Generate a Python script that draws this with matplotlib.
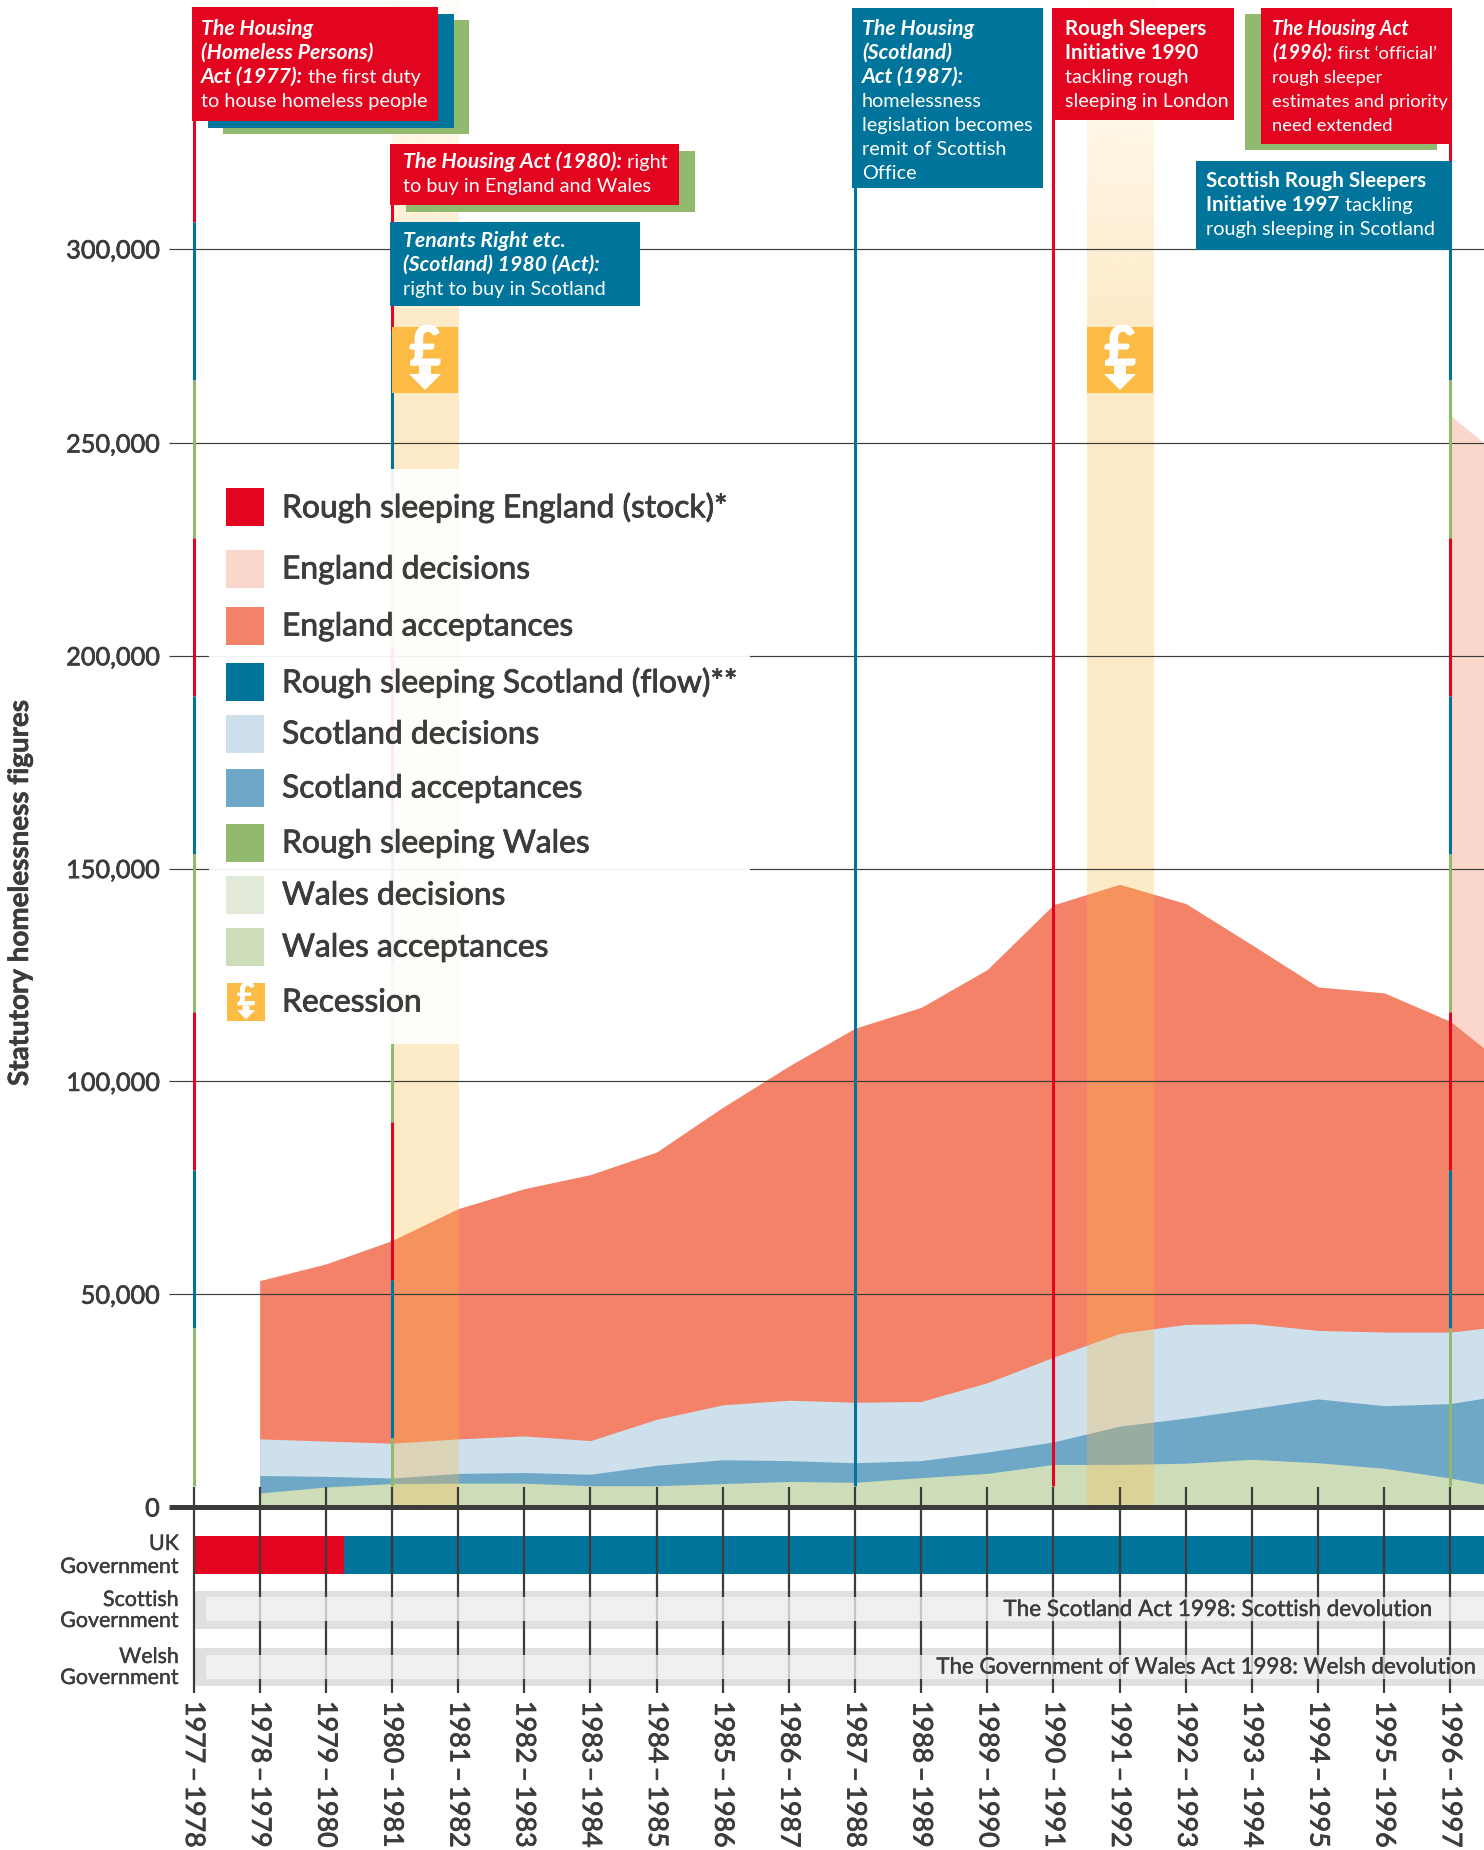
import numpy as np
import matplotlib
matplotlib.use('Agg')
import matplotlib.pyplot as plt
import matplotlib.patheffects as pe
from matplotlib.patches import Rectangle, Polygon
from matplotlib.transforms import blended_transform_factory

plt.rcParams['font.family'] = ['Lato', 'DejaVu Sans']

W, H = 1484, 1850
ZERO_PX = 1507
DARK = '#3c3c3b'
RED = '#e3051f'
BLUE = '#00749a'
GREEN = '#91ba6f'
ORANGE = '#fbbb44'

year_labels = ['%d\u2009–\u2009%d' % (y, y + 1) for y in range(1977, 1997)]

# all series start in 1978-79, last value runs off the right edge
area_years = list(range(1, 21))
england_acceptances = [53200, 57100, 62600, 70100, 74800, 78100, 83400, 93900, 103600, 112500,
                       117400, 126300, 141500, 146300, 141800, 132100, 122200, 120800, 114100, 101700]
scotland_decisions = [16000, 15500, 15000, 16000, 16700, 15600, 20600, 24000, 25100, 24600,
                      24800, 29200, 35200, 40800, 42900, 43100, 41500, 41100, 41100, 42900]
scotland_acceptances = [7400, 7200, 6800, 7900, 8100, 7700, 9800, 11100, 10900, 10400,
                        10900, 12900, 15300, 19000, 20900, 23100, 25400, 23800, 24300, 26800]
wales_acceptances = [3300, 4700, 5500, 5600, 5600, 5000, 5000, 5500, 6000, 5800,
                     6900, 7900, 10000, 10000, 10300, 11200, 10400, 9100, 6800, 4000]
england_decisions_years = [19, 20]
england_decisions = [256500, 243700]

y_tick_values = [0, 50000, 100000, 150000, 200000, 250000]
y_tick_labels = ['0', '50,000', '100,000', '150,000', '200,000', '250,000', '300,000']
# the 300,000 line in the original sits a bit low, off the scale of the others
y_tick_top = 295600

recession_start = [3, 13.5]
recession_end = [4, 14.5]

legend_labels = ['Rough sleeping England (stock)*', 'England decisions', 'England acceptances',
                 'Rough sleeping Scotland (flow)**', 'Scotland decisions', 'Scotland acceptances',
                 'Rough sleeping Wales', 'Wales decisions', 'Wales acceptances', 'Recession']
legend_colors = [RED, '#fbd6cb', '#f38269', BLUE, '#cee0ec', '#6fa8c6', GREEN, '#e1e9d8', '#cdddb9', ORANGE]

px_per_year = 66.15
val_per_px = 50000 / 212.8


def thick(width, color=DARK):
  # the original font is a bit heavier than Lato regular
  return [pe.withStroke(linewidth=width, foreground=color)]


fig = plt.figure(figsize=(W / 100, H / 100), dpi=100, facecolor='white')
xlim = (-193.5 / px_per_year, (W - 193.5) / px_per_year)

ax = fig.add_axes([0, 1 - ZERO_PX / H, 1, ZERO_PX / H], zorder=1)
ax.set_xlim(xlim)
ax.set_ylim(0, ZERO_PX * val_per_px)
for s in ax.spines.values():
  s.set_visible(False)
ax.patch.set_alpha(0)

gov = fig.add_axes([0, 0, 1, 1 - ZERO_PX / H], zorder=2, sharex=ax)
gov.set_ylim(H, ZERO_PX)
gov.axis('off')

ann = fig.add_axes([0, 0, 1, 1], zorder=5)
ann.set_xlim(0, W)
ann.set_ylim(H, 0)
ann.axis('off')

renderer = fig.canvas.get_renderer()

# areas, back to front
ax.fill_between(england_decisions_years, 0, england_decisions, color=legend_colors[1], lw=0, zorder=1)
ax.fill_between(area_years, 0, england_acceptances, color=legend_colors[2], lw=0, zorder=2)
ax.fill_between(area_years, 0, scotland_decisions, color=legend_colors[4], lw=0, zorder=3)
ax.fill_between(area_years, 0, scotland_acceptances, color=legend_colors[5], lw=0, zorder=4)
ax.fill_between(area_years, 0, wales_acceptances, color=legend_colors[8], lw=0, zorder=5)

# recession bands fade out towards the top
rows = np.linspace(ZERO_PX, 0, 300)
band = np.zeros((300, 1, 4))
band[:, 0, :3] = matplotlib.colors.to_rgb(ORANGE)
band[:, 0, 3] = np.interp(rows, [0, 120, 330, ZERO_PX], [0.03, 0.13, 0.3, 0.3])
for a, b in zip(recession_start, recession_end):
  ax.imshow(band, extent=[a, b, 0, ZERO_PX * val_per_px], aspect='auto', zorder=6, origin='lower', interpolation='bilinear')
ax.set_xlim(xlim)
ax.set_ylim(0, ZERO_PX * val_per_px)

# grid
grid_left = (169 - 193.5) / px_per_year
ax.hlines(y_tick_values[1:] + [y_tick_top], grid_left, xlim[1], color=DARK, lw=0.85, zorder=7)
ax.plot([grid_left, xlim[1]], [0, 0], color=DARK, lw=3.6, zorder=12, clip_on=False, solid_capstyle='butt')
ax.set_yticks(y_tick_values + [y_tick_top], y_tick_labels)
ax.set_xticks([])
ax.tick_params(axis='y', length=0, direction='in', pad=-115, labelsize=18.2, labelcolor=DARK)
for t in ax.get_yticklabels():
  t.set_ha('right')
  t.set_path_effects(thick(0.5))
ax.text(20 / W, (ZERO_PX - 893) / ZERO_PX, 'Statutory homelessness figures', transform=ax.transAxes,
        rotation=90, ha='center', va='center', fontsize=20, fontweight='bold', color=DARK, path_effects=thick(0.4))

# year ticks
years_x = np.arange(len(year_labels))
ax.vlines(years_x, 0, 20 * val_per_px, color=DARK, lw=1.6, zorder=11)

# event lines, striped by nation
mix = blended_transform_factory(ax.transData, ann.transData)
stripe_colors = [RED, BLUE, GREEN]
for x, first in [(0, 64), (3, 174), (19, 64)]:
  y0 = first
  i = 0
  while y0 < 1486:
    ax.plot([x, x], [y0, min(y0 + 158, 1486)], transform=mix, color=stripe_colors[i % 3], lw=2.2,
            solid_capstyle='butt', zorder=10)
    y0 += 158
    i += 1
ax.plot([10, 10], [180, 1486], transform=mix, color=BLUE, lw=2.2, solid_capstyle='butt', zorder=10)
ax.plot([13, 13], [110, 1486], transform=mix, color=RED, lw=2.2, solid_capstyle='butt', zorder=10)

# government rows
gov.add_patch(Rectangle((0, 1536), 2.27, 38, color=RED, lw=0, zorder=1))
gov.add_patch(Rectangle((2.27, 1536), 20, 38, color=BLUE, lw=0, zorder=1))
for top, bottom, in_top, in_bottom in [(1591, 1629, 1597, 1621), (1648, 1686, 1655, 1679)]:
  gov.add_patch(Rectangle((0, top), 22, bottom - top, color='#e0e0de', lw=0, zorder=1))
  gov.add_patch(Rectangle(((206 - 193.5) / px_per_year, in_top), 22, in_bottom - in_top, color='#f6f6f6', alpha=0.75, lw=0, zorder=3))
gov.vlines(years_x, ZERO_PX, 1693, color=DARK, lw=1.6, zorder=2)

for x, label in zip(years_x, year_labels):
  gov.text(x, 1701, label, rotation=270, ha='center', va='top', fontsize=19.3, color=DARK, clip_on=True, path_effects=thick(0.6))

for y1, y2, l1, l2 in [(1544, 1567, 'UK', 'Government'), (1600, 1621, 'Scottish', 'Government'), (1657, 1678, 'Welsh', 'Government')]:
  ann.text(179, y1, l1, ha='right', va='center', fontsize=15.4, color=DARK, path_effects=thick(0.3))
  ann.text(179, y2, l2, ha='right', va='center', fontsize=15.4, color=DARK, path_effects=thick(0.3))
ann.text(1433, 1610, 'The Scotland Act 1998: Scottish devolution', ha='right', va='center', fontsize=16.2, color=DARK, path_effects=thick(0.3))
ann.text(1476, 1667.5, 'The Government of Wales Act 1998: Welsh devolution', ha='right', va='center', fontsize=16.05, color=DARK, path_effects=thick(0.3))


def box(x0, x1, y0, y1, color):
  ann.add_patch(Rectangle((x0, y0), x1 - x0, y1 - y0, color=color, lw=0))


def write(x, y, lines, size=14.3):
  # each line is a list of (text, style) runs, b = bold, i = bold italic, r = regular
  factor = {'r': 1.0, 'b': 1.03, 'i': 1.07}
  for line in lines:
    cur = x
    for txt, style in line:
      t = ann.text(cur, y + 7.2, txt.rstrip(), color='white', fontsize=size * factor[style], va='baseline', ha='left',
                   fontweight='bold' if style in 'bi' else 'normal',
                   fontstyle='italic' if style == 'i' else 'normal')
      cur += t.get_window_extent(renderer).width
      if txt.endswith(' '):
        cur += size * 0.28
    y += 24


def recession_icon(x0, y0, size):
  ann.add_patch(Rectangle((x0, y0), size, size, color=ORANGE, lw=0))
  k = size / 66
  cx = x0 + size / 2
  ann.text(cx, y0 + 38 * k, '£', color='white', fontsize=39 * k, fontweight='bold', ha='center', va='baseline',
           path_effects=thick(1.2 * k, 'white'))
  ann.add_patch(Polygon([(cx - 6 * k, y0 + 39 * k), (cx + 6 * k, y0 + 39 * k), (cx + 6 * k, y0 + 47 * k),
                         (cx + 16 * k, y0 + 47 * k), (cx, y0 + 63 * k), (cx - 16 * k, y0 + 47 * k),
                         (cx - 6 * k, y0 + 47 * k)], color='white', lw=0))


# legend panel
box(209, 750, 469, 1044, (1, 1, 1, 0.93))
legend_tops = [488, 550, 607, 663, 715, 769, 824, 876, 928, 983]
for label, col, top in zip(legend_labels, legend_colors, legend_tops):
  if label == 'Recession':
    recession_icon(227, top, 38)
  else:
    box(226, 264, top, top + 38, col)
  ann.text(282, top + 19.5, label, color=DARK, fontsize=22.9, va='center', ha='left', path_effects=thick(0.6))

recession_icon(392, 327, 66)
recession_icon(1087, 327, 66)

# annotation boxes
box(223, 469, 20, 134, GREEN)
box(208, 454, 14, 128, BLUE)
box(192, 438, 7, 121, RED)
write(201, 28, [[('The Housing', 'i')], [('(Homeless Persons)', 'i')],
                [('Act (1977):', 'i'), (' the first duty', 'r')], [('to house homeless people', 'r')]])

box(406, 695, 151, 212, GREEN)
box(390, 679, 144, 205, RED)
write(403, 160.5, [[('The Housing Act (1980):', 'i'), (' right', 'r')], [('to buy in England and Wales', 'r')]])

box(390, 640, 222, 306, BLUE)
write(403, 240, [[('Tenants Right etc.', 'i')], [('(Scotland) 1980 (Act):', 'i')], [('right to buy in Scotland', 'r')]])

box(852, 1043, 8, 188, BLUE)
write(862, 28, [[('The Housing', 'i')], [('(Scotland)', 'i')], [('Act (1987):', 'i')], [('homelessness', 'r')],
                [('legislation becomes', 'r')], [('remit of Scottish', 'r')], [('Office', 'r')]])

box(1051.5, 1234, 8, 120, RED)
write(1065, 28, [[('Rough Sleepers', 'b')], [('Initiative 1990', 'b')], [('tackling rough', 'r')], [('sleeping in London', 'r')]])

box(1245, 1437, 14, 150, GREEN)
box(1261, 1451.5, 8, 144, RED)
write(1272.5, 28, [[('The Housing Act', 'i')], [('(1996):', 'i'), (' first ‘official’', 'r')], [('rough sleeper', 'r')],
                   [('estimates and priority', 'r')], [('need extended', 'r')]], size=13.2)

box(1196, 1451.5, 161, 250, BLUE)
write(1206.5, 180, [[('Scottish Rough Sleepers', 'b')], [('Initiative 1997', 'b'), (' tackling', 'r')], [('rough sleeping in Scotland', 'r')]])

fig.savefig('out.png', dpi=100)
